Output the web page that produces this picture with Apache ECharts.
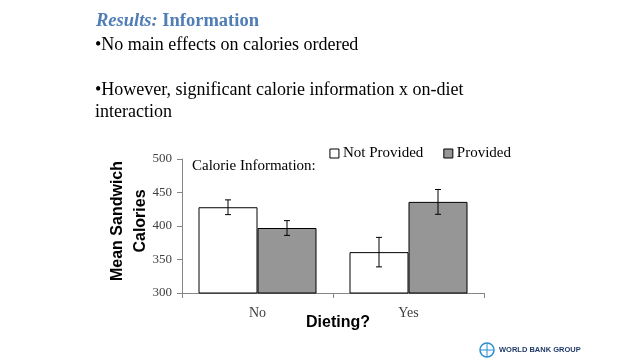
<!DOCTYPE html>
<html><head><meta charset="utf-8">
<script src="https://cdn.jsdelivr.net/npm/echarts@6/dist/echarts.min.js"></script>
<style>html,body{margin:0;padding:0;background:#fff}#c{width:638px;height:359px}</style>
</head><body><div id="c"></div>
<script>
const categories = ['No', 'Yes'];
const seriesNames = ['Not Provided', 'Provided'];
const notProvided = [428, 361];
const provided = [397, 436];
const notProvidedErr = [11, 22];
const providedErr = [11, 18.5];
const yTicks = [300, 350, 400, 450, 500];

const serif = 'Liberation Serif';
const chart = echarts.init(document.getElementById('c'));
const BW = 59;

function errSeries(vals, errs, side) {
  return {
    type: 'custom', z: 10, silent: true,
    data: vals.map((v, i) => [i, v, errs[i]]),
    renderItem: function (params, api) {
      const i = api.value(0), v = api.value(1), e = api.value(2);
      const c = api.coord([i, v]);
      const x = c[0] + side * BW / 2;
      const yt = api.coord([i, v + e])[1], yb = api.coord([i, v - e])[1];
      const w = 3;
      const st = { stroke: '#000', lineWidth: 1 };
      return { type: 'group', children: [
        { type: 'line', shape: { x1: x, y1: yt, x2: x, y2: yb }, style: st },
        { type: 'line', shape: { x1: x - w, y1: yt, x2: x + w, y2: yt }, style: st },
        { type: 'line', shape: { x1: x - w, y1: yb, x2: x + w, y2: yb }, style: st }
      ]};
    }
  };
}

chart.setOption({
  animation: false,
  grid: { left: 182, right: 154, top: 159, bottom: 66, containLabel: false },
  legend: {
    data: seriesNames, right: 122, top: 141, itemWidth: 9, itemHeight: 9, itemGap: 20,
    icon: 'rect',
    itemStyle: { borderWidth: 1, borderColor: '#000' },
    textStyle: { fontFamily: serif, fontSize: 15, color: '#000', padding: [0, 0, 0, -1] }
  },
  xAxis: {
    type: 'category', data: categories,
    axisLine: { lineStyle: { color: '#868686' } },
    axisTick: { show: true, length: 5, lineStyle: { color: '#868686' } },
    axisLabel: { fontFamily: serif, fontSize: 14, color: '#404040', margin: 13 }
  },
  yAxis: {
    type: 'value', min: 300, max: 500, interval: 50,
    splitLine: { show: false },
    axisLine: { show: true, lineStyle: { color: '#868686' } },
    axisTick: { show: true, length: 5, lineStyle: { color: '#868686' } },
    axisLabel: { fontFamily: serif, fontSize: 13, color: '#404040', margin: 10,
      formatter: v => yTicks.includes(v) ? String(v) : '' }
  },
  series: [
    { name: seriesNames[0], type: 'bar', data: notProvided, barWidth: BW, barGap: '0%',
      itemStyle: { color: '#ffffff', borderColor: '#000', borderWidth: 1 } },
    { name: seriesNames[1], type: 'bar', data: provided, barWidth: BW, barGap: '0%',
      itemStyle: { color: '#969696', borderColor: '#000', borderWidth: 1 } },
    errSeries(notProvided, notProvidedErr, -1),
    errSeries(provided, providedErr, 1)
  ],
  graphic: [
    { type: 'text', left: 96, top: 12, style: {
      text: '{i|Results: }{b|Information}',
      rich: {
        i: { fontFamily: serif, fontSize: 18.5, fontStyle: 'italic', fontWeight: 'bold', fill: '#4F7DB5' },
        b: { fontFamily: serif, fontSize: 18.5, fontWeight: 'bold', fill: '#4F7DB5' }
      } } },
    { type: 'text', left: 95, top: 36, style: { text: '•No main effects on calories ordered', font: '18px "Liberation Serif"', fill: '#000' } },
    { type: 'text', left: 95, top: 81, style: { text: '•However, significant calorie information x on-diet', font: '18px "Liberation Serif"', fill: '#000' } },
    { type: 'text', left: 95, top: 103, style: { text: 'interaction', font: '18px "Liberation Serif"', fill: '#000' } },
    { type: 'text', left: 192, top: 159, style: { text: 'Calorie Information:', font: '15px "Liberation Serif"', fill: '#000' } },
    { type: 'text', x: 129, y: 221, rotation: Math.PI / 2, style: {
      text: 'Mean Sandwich\nCalories', font: 'bold 16px "Liberation Sans"', fill: '#000',
      align: 'center', verticalAlign: 'middle', lineHeight: 23 } },
    { type: 'text', x: 338, y: 323, style: { text: 'Dieting?', font: 'bold 16px "Liberation Sans"', fill: '#000', align: 'center', verticalAlign: 'middle' } },
    { type: 'circle', shape: { cx: 487, cy: 350, r: 7 }, style: { fill: 'none', stroke: '#2b8fd0', lineWidth: 1.5 } },
    { type: 'line', shape: { x1: 480, y1: 350, x2: 494, y2: 350 }, style: { stroke: '#2b8fd0', lineWidth: 1 } },
    { type: 'line', shape: { x1: 487, y1: 343, x2: 487, y2: 357 }, style: { stroke: '#2b8fd0', lineWidth: 1 } },
    { type: 'text', left: 499, top: 346, style: { text: 'WORLD BANK GROUP', font: 'bold 7.5px "Liberation Sans"', fill: '#1f3a68' } }
  ]
});
</script></body></html>
